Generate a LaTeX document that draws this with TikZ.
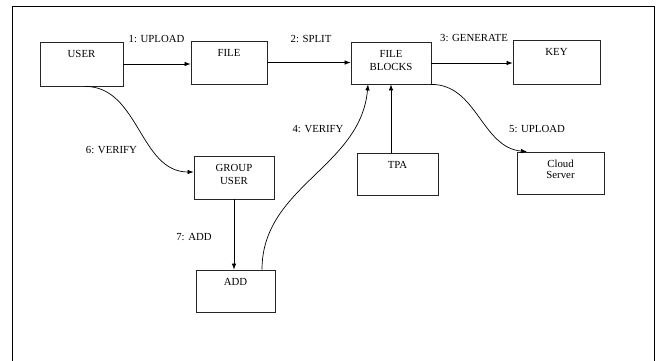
\documentclass[tikz,border=0pt]{standalone}
\usepackage{fontspec}
\setmainfont{Liberation Serif}
\usetikzlibrary{arrows.meta}
\tikzset{
	box/.style={draw=black!85, line width=0.8pt, inner sep=0pt, align=center,
		text height=15pt, text depth=27pt, font=\fontsize{10.8}{13}\selectfont},
	twoline/.style={text height=28pt, text depth=#1},
	lbl/.style={inner sep=0pt, font=\fontsize{10.8}{13}\selectfont},
	flow/.style={line width=0.7pt, -{Latex[length=6pt,width=4.5pt]}}
}
\begin{document}
\begin{tikzpicture}[x=1pt, y=-1pt]
	\useasboundingbox (0,0) rectangle (659,360);
	% outer frame, open at the bottom
	\draw[line width=1pt] (12,362) -- (12,6) -- (654,6) -- (654,362);
	% boxes
	\node[box, minimum width=83pt, text depth=29pt] (user) at (81.5,64) {USER};
	\node[box, minimum width=76pt, text depth=28pt] (file) at (229,62.5) {FILE};
	\node[box, minimum width=80pt, twoline=14pt] (blocks) at (391,63) {FILE\\BLOCKS};
	\node[box, minimum width=87pt, text depth=29pt] (key) at (556.5,62) {KEY};
	\node[box, minimum width=80pt, twoline=15pt] (group) at (234,177.5) {GROUP\\USER};
	\node[box, minimum width=79pt] (add) at (235.5,291) {ADD};
	\node[box, minimum width=81pt] (tpa) at (397.5,174) {TPA};
	\node[box, minimum width=87pt, font=\fontsize{10.8}{11.5}\selectfont,
		text height=26.5pt, text depth=15.5pt] (cloud) at (560.5,173) {Cloud\\Server};
	% labels
	\node[lbl] (l1) at (156.5,38.5) {1: UPLOAD};
	\node[lbl] (l2) at (311,38.5) {2: SPLIT};
	\node[lbl] (l3) at (474,37.5) {3: GENERATE};
	\node[lbl] (l4) at (318,129) {4: VERIFY};
	\node[lbl] (l5) at (537,129) {5: UPLOAD};
	\node[lbl] (l6) at (111.5,150.5) {6: VERIFY};
	\node[lbl] (l7) at (194,237.5) {7: ADD};
	% connectors
	\draw[flow] (user.east) -- (user.east -| file.west);
	\draw[flow] (file.east) -- (file.east -| blocks.west);
	\draw[flow] (blocks.east) -- (blocks.east -| key.west);
	\draw[flow] ([xshift=3.5pt]user.south) to[out=0, in=180] ([yshift=5.5pt]group.west);
	\draw[flow] (group.south) -- (group.south |- add.north);
	\draw[flow] ([xshift=26.5pt]add.north) to[out=90, in=-95] ([xshift=-23pt]blocks.south);
	\draw[flow] (blocks.south |- tpa.north) -- (blocks.south);
	\draw[flow] (blocks.south east) to[out=0, in=175] ([xshift=-33.5pt]cloud.north);
\end{tikzpicture}
\end{document}
